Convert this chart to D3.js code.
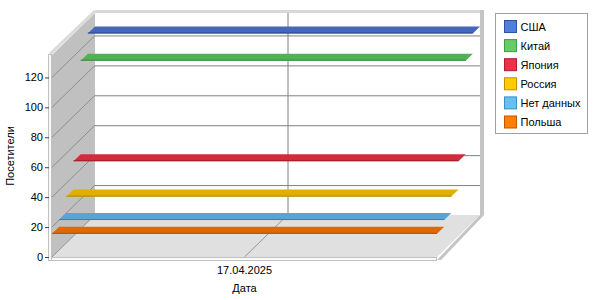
<!DOCTYPE html>
<html>

<head>
    <meta charset="utf-8">
    <title>Посетители</title>
    <script src="https://d3js.org/d3.v7.min.js" charset="utf-8"></script>
    <style>
        body { margin: 0; background: #fff; }
        text { font-family: "Liberation Sans", Arial, sans-serif; font-size: 11px; fill: #000; }
    </style>
</head>

<body>
    <div class="box"></div>

    <script type="text/javascript">
        var categories = ["17.04.2025"];
        var seriesNames = ["США", "Китай", "Япония", "Россия", "Нет данных", "Польша"];
        var seriesValues = [126, 112.5, 50, 31, 20, 15.5];
        var yTicks = [0, 20, 40, 60, 80, 100, 120];
        var legendFill = ["#5080dc", "#66cc66", "#f0304a", "#ffcc00", "#66c0f0", "#ff7f00"];
        var legendStroke = ["#3050a0", "#449944", "#a82030", "#c09000", "#3a90c0", "#c05800"];
        var ribbonFill = ["#4466bb", "#55b055", "#d42a3c", "#e0b000", "#55a5d8", "#e06800"];
        var ribbonEdge = ["#2f4a90", "#3c8a3c", "#a01e2c", "#b08800", "#3a80b0", "#b05000"];

        var width = 600;
        var height = 300;
        var plotLeft = 52, plotRight = 437, plotBottom = 257, plotTop = 55;
        var depthX = 43, depthY = 42;

        var svg = d3.select("div.box").append("svg")
            .attr("width", width)
            .attr("height", height);

        var y = d3.scaleLinear().domain([0, 135]).range([plotBottom, plotTop]);
        var x = d3.scalePoint().domain(categories).range([plotLeft, plotRight]).padding(0.5);
        // depth: first series is at the back
        var z = d3.scaleBand().domain(seriesNames.slice().reverse()).range([0, 1]);

        function px(xx, zz) { return xx + depthX * zz; }
        function py(yy, zz) { return yy - depthY * zz; }
        function pts(arr) { return arr.map(function(p) { return p.join(","); }).join(" "); }

        // back wall
        svg.append("rect")
            .attr("x", px(plotLeft, 1)).attr("y", py(plotTop, 1))
            .attr("width", plotRight - plotLeft).attr("height", plotBottom - plotTop)
            .attr("fill", "#fff");
        // back wall frame (top + right thickness)
        svg.append("rect")
            .attr("x", px(plotLeft, 1)).attr("y", py(plotTop, 1) - 3)
            .attr("width", plotRight - plotLeft + 4).attr("height", 3)
            .attr("fill", "#d8d8d8");
        svg.append("rect")
            .attr("x", px(plotRight, 1)).attr("y", py(plotTop, 1) - 3)
            .attr("width", 4).attr("height", plotBottom - plotTop + 3)
            .attr("fill", "#c4c4c4");

        // left wall
        svg.append("polygon")
            .attr("points", pts([[plotLeft, plotTop], [px(plotLeft, 1), py(plotTop, 1)], [px(plotLeft, 1), py(plotBottom, 1)], [plotLeft, plotBottom]]))
            .attr("fill", "#c0c0c0");
        // left wall top edge
        svg.append("line")
            .attr("x1", plotLeft - 2).attr("y1", plotTop - 1)
            .attr("x2", px(plotLeft, 1)).attr("y2", py(plotTop, 1) - 2)
            .attr("stroke", "#dadada").attr("stroke-width", 3);

        // floor
        svg.append("polygon")
            .attr("points", pts([[plotLeft, plotBottom], [px(plotLeft, 1), py(plotBottom, 1)], [px(plotRight, 1), py(plotBottom, 1)], [plotRight, plotBottom]]))
            .attr("fill", "#e0e0e0");
        // floor right thickness
        svg.append("polygon")
            .attr("points", pts([[px(plotRight, 1), py(plotBottom, 1)], [px(plotRight, 1) + 4, py(plotBottom, 1)], [plotRight + 4, plotBottom + 3], [plotRight, plotBottom + 3]]))
            .attr("fill", "#c4c4c4");

        // grid on back wall
        svg.selectAll("line.hgrid")
            .data(yTicks.filter(function(d) { return d > 0; }))
            .enter().append("line")
            .attr("class", "hgrid")
            .attr("x1", px(plotLeft, 1)).attr("x2", px(plotRight, 1))
            .attr("y1", function(d) { return py(y(d), 1) + 0.5; })
            .attr("y2", function(d) { return py(y(d), 1) + 0.5; })
            .attr("stroke", "#808080");
        // grid on left wall
        svg.selectAll("line.dgrid")
            .data(yTicks)
            .enter().append("line")
            .attr("class", "dgrid")
            .attr("x1", plotLeft).attr("x2", px(plotLeft, 1))
            .attr("y1", function(d) { return y(d); })
            .attr("y2", function(d) { return py(y(d), 1); })
            .attr("stroke", "#808080").attr("stroke-width", 0.8);
        // category grid
        categories.forEach(function(c) {
            svg.append("line")
                .attr("x1", px(x(c), 1) + 0.5).attr("x2", px(x(c), 1) + 0.5)
                .attr("y1", py(plotTop, 1)).attr("y2", py(plotBottom, 1))
                .attr("stroke", "#808080");
            svg.append("line")
                .attr("x1", x(c)).attr("y1", plotBottom)
                .attr("x2", px(x(c), 1)).attr("y2", py(plotBottom, 1))
                .attr("stroke", "#808080").attr("stroke-width", 0.8);
        });

        // floor front edge and left wall front edge
        svg.append("rect")
            .attr("x", plotLeft - 3.5).attr("y", plotBottom + 0.5)
            .attr("width", plotRight - plotLeft + 3).attr("height", 3)
            .attr("fill", "#fafafa").attr("stroke", "#c0c0c0");
        svg.append("rect")
            .attr("x", plotLeft - 3.5).attr("y", plotTop - 0.5)
            .attr("width", 3).attr("height", plotBottom - plotTop + 4)
            .attr("fill", "#fafafa").attr("stroke", "#c0c0c0");

        // ribbons, drawn back to front
        seriesNames.forEach(function(name, i) {
            var z1 = z(name), z2 = z(name) + z.bandwidth();
            var v = y(seriesValues[i]);
            var g = svg.append("g");
            g.append("polygon")
                .attr("points", pts([
                    [px(plotLeft, z1), py(v, z1)], [px(plotLeft, z2), py(v, z2)],
                    [px(plotRight, z2), py(v, z2)], [px(plotRight, z1), py(v, z1)]
                ]))
                .attr("fill", ribbonFill[i]);
            g.append("line")
                .attr("x1", px(plotLeft, z1)).attr("y1", py(v, z1) - 0.5)
                .attr("x2", px(plotRight, z1)).attr("y2", py(v, z1) - 0.5)
                .attr("stroke", ribbonEdge[i]).attr("stroke-width", 1);
        });

        // y axis
        var yAxis = svg.append("g")
            .attr("transform", "translate(" + (plotLeft - 3) + ",0)")
            .call(d3.axisLeft(y).tickValues(yTicks).tickSize(4).tickPadding(2));
        yAxis.select(".domain").remove();
        yAxis.selectAll("line").attr("stroke", "#404040");
        yAxis.selectAll("text").attr("font-size", null).attr("font-family", null);

        // x axis labels
        svg.selectAll("text.xlab")
            .data(categories)
            .enter().append("text")
            .attr("class", "xlab")
            .attr("x", function(d) { return x(d); })
            .attr("y", 274)
            .attr("text-anchor", "middle")
            .text(function(d) { return d; });

        svg.append("text")
            .attr("x", x(categories[0])).attr("y", 292)
            .attr("text-anchor", "middle")
            .text("Дата");

        svg.append("text")
            .attr("transform", "translate(14," + ((plotTop + plotBottom) / 2) + ") rotate(-90)")
            .attr("text-anchor", "middle")
            .text("Посетители");

        // legend
        var legend = svg.append("g");
        legend.append("rect")
            .attr("x", 495.5).attr("y", 13.5)
            .attr("width", 92).attr("height", 120)
            .attr("fill", "#fff").attr("stroke", "#a0a0a0");
        var items = legend.selectAll("g.item")
            .data(seriesNames)
            .enter().append("g")
            .attr("class", "item")
            .attr("transform", function(d, i) { return "translate(504.5," + (20.5 + i * 19.1) + ")"; });
        items.append("rect")
            .attr("width", 12).attr("height", 12)
            .attr("fill", function(d, i) { return legendFill[i]; })
            .attr("stroke", function(d, i) { return legendStroke[i]; });
        items.append("text")
            .attr("x", 16).attr("y", 10)
            .text(function(d) { return d; });
    </script>
</body>

</html>
